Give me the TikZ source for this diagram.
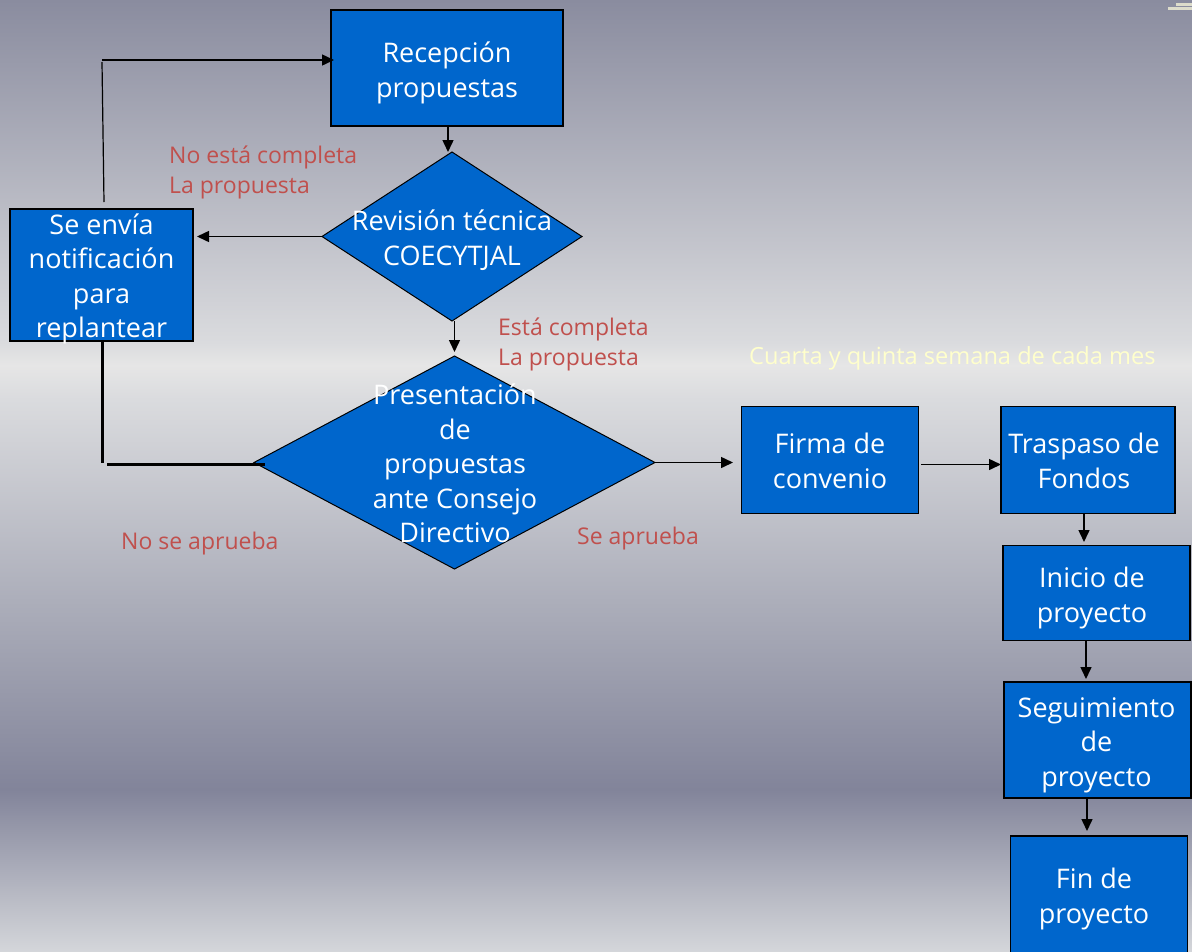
\documentclass[tikz,border=0pt]{standalone}
\usepackage{fontspec}
\setmainfont{Open Sans}
\usetikzlibrary{shapes.geometric}
\usetikzlibrary{arrows.meta}
\definecolor{bgt}{HTML}{8A8C9F}
\definecolor{bgm}{HTML}{DADBDE}
\definecolor{bgl}{HTML}{E6E6E6}
\definecolor{bgc}{HTML}{ACAEBA}
\definecolor{bgb}{HTML}{82849A}
\definecolor{bgd}{HTML}{D4D6DA}
\definecolor{boxblue}{HTML}{0066CC}
\definecolor{notered}{HTML}{C0504D}
\definecolor{notepale}{HTML}{FFFFCC}
\definecolor{speck}{HTML}{DDDCCB}
\pgfdeclareverticalshading{slidebg}{100bp}{
  color(0bp)=(bgd);
  color(25bp)=(bgd);
  color(33.5bp)=(bgb);
  color(43.4bp)=(bgc);
  color(54bp)=(bgm);
  color(55.8bp)=(bgl);
  color(57bp)=(bgm);
  color(75bp)=(bgt);
  color(100bp)=(bgt)}
\tikzset{x=1pt,y=-1pt,
         procbox/.style={draw=black,line width=1.6pt,fill=boxblue,inner sep=0pt,outer sep=0pt},
         decision/.style={draw=black,line width=1pt,fill=boxblue,diamond,inner sep=0pt,outer sep=0pt},
         desctext/.style={text=white,align=center,font=\fontsize{27}{34.5}\selectfont,inner sep=0pt},
         note/.style={text=notered,align=left,font=\fontsize{23}{29.5}\selectfont,inner sep=0pt},
         flow/.style={draw=black,line width=1.5pt,-{Triangle[length=12pt,width=11pt]}},
         heavy/.style={draw=black,line width=3pt},
         }
\begin{document}
\begin{tikzpicture}
\useasboundingbox (0,0) rectangle (1192,951);
\shade[shading=slidebg] (0,0) rectangle (1192,951);
\fill[speck] (1168,7) rectangle (1192,10);
\fill[speck] (1176,3) rectangle (1192,6);
% boxes
\node[procbox,minimum width=232pt,minimum height=116pt] (recepcion) at (447,68) {};
\node[desctext] (recepciontxt) at (447,73) {Recepción\\propuestas};
\node[procbox,minimum width=183pt,minimum height=132pt] (notificacion) at (101.5,275) {};
\node[desctext] (notificaciontxt) at (101.5,279) {Se envía\\notificación\\para\\replantear};
\node[procbox,minimum width=177pt,minimum height=107pt] (firma) at (830,460) {};
\node[desctext] (firmatxt) at (830,461) {Firma de\\convenio};
\node[procbox,minimum width=174pt,minimum height=107pt] (traspaso) at (1088,460) {};
\node[desctext] (traspasotxt) at (1084,461) {Traspaso de\\Fondos};
\node[procbox,minimum width=187pt,minimum height=95pt] (inicio) at (1096.5,593) {};
\node[desctext] (iniciotxt) at (1092,598) {Inicio de\\proyecto};
\node[procbox,minimum width=187pt,minimum height=116pt] (seguimiento) at (1097.5,740) {};
\node[desctext] (seguimientotxt) at (1096.5,745) {Seguimiento\\de\\proyecto};
\node[procbox,minimum width=177pt,minimum height=130pt] (fin) at (1099,901) {};
\node[desctext] (fintxt) at (1094,899) {Fin de\\proyecto};
% decisions
\node[decision,minimum width=260pt,minimum height=169pt] (revision) at (452,236.5) {};
\node[desctext] (revisiontxt) at (452,240) {Revisión técnica\\COECYTJAL};
\node[decision,minimum width=401pt,minimum height=213pt] (presentacion) at (454.5,462.5) {};
\node[desctext] (presentaciontxt) at (455,463.5) {Presentación\\de\\propuestas\\ante Consejo\\Directivo};
% labels
\node[note,anchor=north west] (nocompleta) at (169,146) {No está completa\\La propuesta};
\node[note,anchor=north west] (completa) at (498,318) {Está completa\\La propuesta};
\node[note,anchor=west] (noaprueba) at (121,544) {No se aprueba};
\node[note,anchor=west] (aprueba) at (577,539) {Se aprueba};
\node[note,anchor=west,text=notepale,font=\fontsize{23.6}{29.5}\selectfont] (semana) at (749,358) {Cuarta y quinta semana de cada mes};
% connectors
\coordinate (esq1) at (102,60);
\coordinate (sal1) at (104,202);
\coordinate (esq2) at (102,463);
\coordinate (sal2) at (107,464);
\coordinate (fin1) at (448,127);
\coordinate (ini1) at (197,236.5);
\draw[line width=1.2pt] (sal1) -- (esq1 |- 0,62);
\draw[flow] (esq1) -- ([xshift=3pt]recepcion.west |- esq1);
\draw[flow] (fin1) -- (fin1 |- revision.north);
\draw[flow] (revision.west) -- (ini1);
\draw[flow] (revision.south -| presentacion.north) -- ++(0,31);
\draw[heavy] (notificacion.south -| esq2) -- (esq2);
\draw[heavy] (sal2) -- ([xshift=11pt]sal2 -| presentacion.west);
\draw[flow] (presentacion.east) -- ++(78,0);
\draw[flow] (921,464.5) -- (traspaso.west |- 0,464.5);
\draw[flow] (traspaso.south -| 1084,0) -- (1084,542);
\draw[flow] (inicio.south -| 1086,0) -- (1086,679);
\draw[flow] (seguimiento.south -| 1087,0) -- (1087,831);
\end{tikzpicture}
\end{document}
